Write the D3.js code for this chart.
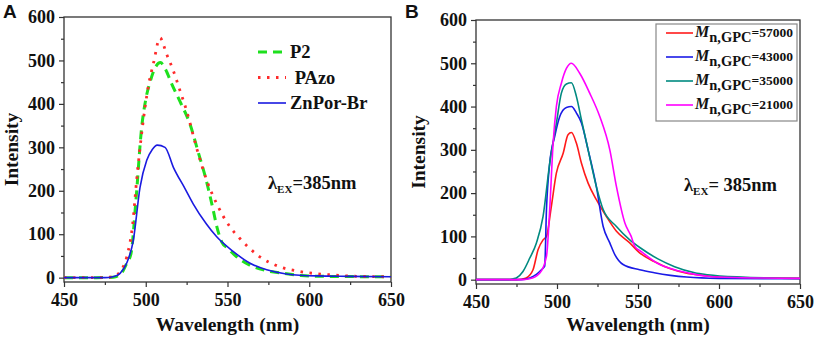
<!DOCTYPE html>
<html>
<head>
<meta charset="utf-8">
<script src="https://cdn.jsdelivr.net/npm/d3@7"></script>
<style>
  body { margin: 0; background: #fff; }
</style>
</head>
<body>
<script>
// ---- data ----
var xTicks = [450, 500, 550, 600, 650],
    xMinor = [475, 525, 575, 625],
    yTicks = [0, 100, 200, 300, 400, 500, 600],
    yMinor = [50, 150, 250, 350, 450, 550];

// panel A
var p2 = [[450,0],[470,0],[480,1],[483,4],[486,15],[488,30],[491,56],[494,178],[497.5,346],[500,410],[503,455],[506,485],[509,495],[512,480],[516,445],[521,405],[527,354],[532,290],[537,224],[541,160],[543.5,117],[546.5,82],[550,68],[555.6,48],[563.6,29],[574,16],[584,10],[595,5],[610,3],[650,2]];
var pAzo = [[450,0],[475,0],[478,1],[481.4,4],[484.4,14],[488.4,48],[491.8,117],[494.6,231],[497.7,338],[501.8,445],[504.8,495],[508.7,552],[512.8,514],[516.9,476],[521,430],[525,384],[531,300],[537.3,224],[543.4,170],[551.5,117],[557.6,90],[569.8,48],[582,25],[594.6,14],[614.8,6],[630,3],[650,2]];
var znPor = [[450,0],[475,0],[480,2],[484.3,10],[488.3,33],[492.4,86],[496.5,208],[500.6,270],[504,295],[507,305],[511.8,300],[516.9,254],[524,205],[529,170],[537,124],[543.4,94],[553.6,60],[563.8,33],[574,18],[586,8.5],[604.6,4],[625,3],[650,2]];

// panel B
var m57000 = [[450,0],[475,0],[478,1],[481,4],[485.2,23],[488.3,69],[491.4,92],[493.5,100],[496.5,169],[499.6,246],[503.8,292],[506.8,335],[508.9,340],[512,315],[515.1,269],[519.2,223],[524.3,185],[530.5,146],[536.7,112],[544.9,85],[551,62],[560,42],[570,25],[580,15],[590,10],[600,6],[625,4],[650,3]];
var m43000 = [[450,0],[478,0],[483.2,4],[487.3,12],[490.4,23],[492.4,31],[493.5,162],[495.5,269],[498.6,331],[501.7,377],[505.8,398],[508.9,400],[512,385],[515.1,362],[519.2,300],[524.3,215],[528.5,123],[532.6,85],[535.7,58],[540.8,35],[551,23],[560,16],[570,10],[580,6],[600,3],[650,2]];
var m35000 = [[450,0],[470,0],[473,2],[474.9,4],[479,19],[483.2,50],[487.3,85],[491.4,146],[495.5,269],[499.6,361],[502.7,431],[505.8,452],[508.9,455],[512,423],[515.1,369],[519.2,300],[524.3,215],[528.5,162],[536.7,123],[544.9,92],[552,72],[562.3,48],[572.6,30],[585,16],[593,11.5],[613.7,6],[630,4],[650,3]];
var m21000 = [[450,0],[478,0],[483,2],[489.3,15],[493.5,54],[495.5,162],[497.6,315],[499.6,400],[502.7,454],[505.8,488],[508.9,500],[514,477],[520.2,431],[526.4,377],[532.6,300],[536.7,215],[541.9,131],[545.8,100],[548,77],[552,65],[562,38],[572.6,23],[582.9,14],[593,8],[610,5],[650,3]];

var legendA = ["P2", " PAzo", "ZnPor-Br"];
var legendB = ["57000", "43000", "35000", "21000"];

var width = 816, height = 340;

var svg = d3.select('body').append('svg')
    .attr('width', width)
    .attr('height', height);

function drawPanel(p) {
    var x = d3.scaleLinear().domain([450, 650]).range([p.left, p.right]);
    var y = d3.scaleLinear().domain([-10, 600]).range([p.bottom, p.top]);
    var g = svg.append('g');

    // minor ticks
    g.append('g').attr('transform', `translate(0,${p.bottom})`)
        .call(d3.axisBottom(x).tickValues(xMinor).tickSize(3).tickFormat(''))
        .call(a => a.select('.domain').remove());
    g.append('g').attr('transform', `translate(${p.left},0)`)
        .call(d3.axisLeft(y).tickValues(yMinor).tickSize(3).tickFormat(''))
        .call(a => a.select('.domain').remove());

    // major ticks
    var xa = g.append('g').attr('transform', `translate(0,${p.bottom})`)
        .call(d3.axisBottom(x).tickValues(xTicks).tickSize(5).tickPadding(6));
    var ya = g.append('g').attr('transform', `translate(${p.left},0)`)
        .call(d3.axisLeft(y).tickValues(yTicks).tickSize(5).tickPadding(4));
    [xa, ya].forEach(a => {
        a.select('.domain').remove();
        a.selectAll('text').style('font-size', '18px').attr('fill', '#111');
    });
    g.selectAll('.tick line').attr('stroke', '#333').attr('stroke-width', 1.2);

    // frame
    g.append('rect')
        .attr('x', p.left).attr('y', p.top)
        .attr('width', p.right - p.left).attr('height', p.bottom - p.top)
        .attr('fill', 'none').attr('stroke', '#333').attr('stroke-width', 1.3);

    var line = d3.line()
        .x(d => x(d[0]))
        .y(d => y(d[1]))
        .curve(d3.curveMonotoneX);

    p.series.forEach(s => {
        g.append('path')
            .datum(s.data)
            .attr('d', line)
            .attr('fill', 'none')
            .attr('stroke', s.color)
            .attr('stroke-width', s.width)
            .attr('stroke-dasharray', s.dash || null);
    });

    // axis titles
    g.append('text')
        .attr('x', (p.left + p.right) / 2).attr('y', 331)
        .attr('text-anchor', 'middle').style('font-size', '19.5px')
        .text('Wavelength (nm)');
    g.append('text')
        .attr('transform', `translate(${p.ylabX},${(p.top + p.bottom) / 2}) rotate(-90)`)
        .attr('text-anchor', 'middle').style('font-size', '19.5px')
        .text('Intensity');

    // excitation note
    var t = g.append('text').attr('x', p.noteX).attr('y', p.noteY).style('font-size', '18.5px');
    t.append('tspan').text('λ');
    t.append('tspan').style('font-size', '11px').attr('dy', 4).text('EX');
    t.append('tspan').attr('dy', -4).text(p.noteText);

    return g;
}

var gA = drawPanel({
    left: 64, right: 391, top: 17, bottom: 282,
    ylabX: 18,
    noteX: 268, noteY: 189, noteText: '=385nm',
    series: [
        {data: p2, color: '#1ee01e', width: 3, dash: '9,6'},
        {data: pAzo, color: '#ff2a2a', width: 2.8, dash: '2.5,6.5'},
        {data: znPor, color: '#1a1ae0', width: 1.6}
    ]
});

// legend A
var legA = [
    {color: '#1ee01e', width: 3, dash: '9,6'},
    {color: '#ff2a2a', width: 2.8, dash: '2.5,6.5'},
    {color: '#1a1ae0', width: 1.6}
];
legendA.forEach((name, i) => {
    var ly = 52 + i * 25.5;
    gA.append('line')
        .attr('x1', 258).attr('x2', 286).attr('y1', ly).attr('y2', ly)
        .attr('stroke', legA[i].color).attr('stroke-width', legA[i].width)
        .attr('stroke-dasharray', legA[i].dash || null);
    gA.append('text')
        .attr('x', 290).attr('y', ly + 6).style('font-size', '18.5px')
        .style('white-space', 'pre')
        .text(name);
});

var colorsB = ['#ff1a1a', '#1a1ae6', '#008a80', '#ff00ff'];
var gB = drawPanel({
    left: 476, right: 800, top: 20, bottom: 284,
    ylabX: 425,
    noteX: 684, noteY: 191, noteText: '= 385nm',
    series: [m57000, m43000, m35000, m21000].map((d, i) => ({data: d, color: colorsB[i], width: 1.6}))
});

// legend B
gB.append('rect')
    .attr('x', 656).attr('y', 24).attr('width', 141).attr('height', 97)
    .attr('fill', '#fff').attr('stroke', '#888').attr('stroke-width', 1.2);
legendB.forEach((v, i) => {
    var ly = 33 + i * 24;
    gB.append('line')
        .attr('x1', 666).attr('x2', 693).attr('y1', ly).attr('y2', ly)
        .attr('stroke', colorsB[i]).attr('stroke-width', 1.6);
    var t = gB.append('text').attr('x', 695).attr('y', ly + 4).style('font-size', '16px');
    t.append('tspan').style('font-style', 'italic').text('M');
    t.append('tspan').style('font-size', '14.5px').attr('dy', 5).text('n,GPC');
    t.append('tspan').style('font-size', '13.5px').attr('dy', -5).text('=' + v);
});

// serif bold for all chart text
svg.selectAll('text')
    .style('font-family', '"Liberation Serif", "Times New Roman", serif')
    .style('font-weight', 'bold')
    .style('fill', '#111');

// panel letters (sans)
[['A', 3], ['B', 405]].forEach(d => {
    svg.append('text')
        .attr('x', d[1]).attr('y', 18)
        .style('font-family', '"Liberation Sans", Arial, sans-serif')
        .style('font-weight', 'bold')
        .style('font-size', '19px')
        .style('fill', '#111')
        .text(d[0]);
});
</script>
</body>
</html>
